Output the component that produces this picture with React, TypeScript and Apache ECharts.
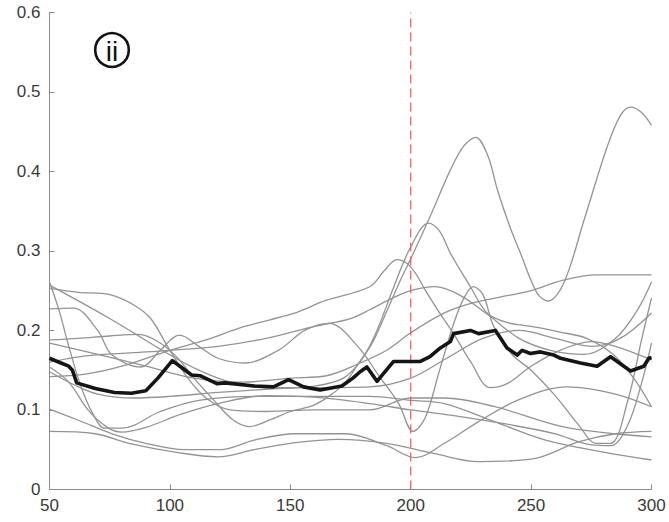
import React, { useEffect, useRef } from "react";
import * as echarts from "echarts";

const xTicks = [50, 100, 150, 200, 250, 300];
const yTicks = [0, 0.1, 0.2, 0.3, 0.4, 0.5, 0.6];
const markerX = 200;
const panelLabel = "ii";

const meanLine: [number, number][] = [
  [50, 0.165], [54, 0.16], [58, 0.155], [59.5, 0.15], [61.3, 0.134], [69, 0.127], [77, 0.122],
  [84, 0.121], [90, 0.124], [95, 0.14], [101, 0.162], [105, 0.153], [109, 0.144], [112.5, 0.143],
  [119.5, 0.133], [123, 0.134], [135, 0.13], [143, 0.129], [149.3, 0.138], [155.5, 0.129],
  [162.4, 0.125], [171.4, 0.13], [176, 0.14], [179, 0.148], [181.8, 0.154], [186, 0.136],
  [192.9, 0.161], [204, 0.161], [208, 0.167], [212.3, 0.178], [216.5, 0.186], [217.8, 0.196],
  [224.8, 0.2], [228.2, 0.196], [235.2, 0.2], [240, 0.178], [244.2, 0.169], [246.3, 0.175],
  [249.7, 0.171], [253.9, 0.173], [259.4, 0.169], [262.2, 0.165], [270.5, 0.159], [277.4, 0.155],
  [283, 0.167], [291.3, 0.149], [296.8, 0.155], [298.9, 0.165], [300, 0.166],
];

const trialA: [number, number][] = [
  [50, 0.188], [62, 0.19], [75, 0.193], [87, 0.195], [95, 0.186], [103, 0.166], [110, 0.14],
  [118, 0.113], [126, 0.088], [133, 0.079], [142, 0.088], [150, 0.098], [159, 0.105], [166, 0.117],
  [173, 0.135], [178, 0.157], [184, 0.184], [189, 0.217], [196, 0.265], [200, 0.29], [208, 0.343],
  [216.5, 0.402], [222, 0.432], [227, 0.443], [232, 0.42], [236, 0.377], [241, 0.332], [245.6, 0.297],
  [252.5, 0.247], [257, 0.237], [263.5, 0.259], [272, 0.339], [281.6, 0.431], [287, 0.47],
  [291.3, 0.481], [296, 0.474], [300, 0.458],
];
const trialB: [number, number][] = [
  [50, 0.148], [60, 0.132], [70, 0.12], [85, 0.115], [100, 0.117], [120, 0.122], [140, 0.126],
  [160, 0.13], [172, 0.14], [180, 0.165], [186, 0.2], [193, 0.255], [200, 0.305], [207.5, 0.335],
  [212, 0.325], [216.5, 0.297], [224.8, 0.255], [231.7, 0.222], [240, 0.21], [250, 0.205],
  [262, 0.198], [273, 0.19], [284, 0.17], [292.6, 0.14], [300, 0.104],
];
const trialC: [number, number][] = [
  [50, 0.142], [65, 0.145], [80, 0.155], [100, 0.175], [115, 0.188], [131, 0.205], [151, 0.221],
  [165, 0.238], [183, 0.255], [189, 0.275], [194.3, 0.289], [200, 0.28], [206.8, 0.247],
  [212, 0.222], [217.8, 0.196], [225, 0.16], [233, 0.128], [240, 0.133], [250, 0.155],
  [262, 0.175], [275, 0.186], [285, 0.18], [300, 0.163],
];
const trialD: [number, number][] = [
  [50, 0.227], [60, 0.228], [70, 0.2], [76, 0.169], [88, 0.154], [96, 0.175], [104, 0.194],
  [112, 0.18], [120, 0.165], [131, 0.159], [145, 0.175], [156, 0.2], [166, 0.209], [178, 0.18],
  [187, 0.142], [195, 0.108], [201, 0.073], [206, 0.09], [212, 0.15], [218, 0.21], [222, 0.24],
  [226, 0.255], [230, 0.245], [234.5, 0.205], [242, 0.17], [250, 0.15], [260, 0.118], [270, 0.08],
  [277, 0.058], [283, 0.058], [290, 0.11], [296, 0.19], [300, 0.241],
];
const trialE: [number, number][] = [
  [50, 0.101], [62, 0.087], [76, 0.07], [90, 0.058], [106, 0.05], [121, 0.05], [135, 0.062],
  [152, 0.07], [173, 0.07], [190, 0.055], [202, 0.04], [214, 0.058], [228, 0.085], [245, 0.113],
  [265, 0.129], [285, 0.12], [300, 0.104],
];
const trialF: [number, number][] = [
  [50, 0.073], [69, 0.07], [83, 0.058], [104, 0.046], [120, 0.041], [135, 0.05], [150, 0.058],
  [170, 0.063], [190, 0.058], [210, 0.045], [228, 0.035], [250, 0.038], [270, 0.06], [285, 0.07],
  [300, 0.073],
];
const trialG: [number, number][] = [
  [50, 0.261], [54, 0.225], [58, 0.18], [63, 0.13], [68, 0.095], [73, 0.077], [80, 0.077],
  [96, 0.098], [112, 0.112], [137, 0.117], [160, 0.117], [183, 0.117], [200, 0.112], [214, 0.108],
  [235, 0.085], [256, 0.062], [280, 0.047], [300, 0.037],
];
const trialH: [number, number][] = [
  [50, 0.154], [58, 0.135], [66, 0.1], [74, 0.078], [80, 0.072], [90, 0.078], [105, 0.095],
  [120, 0.108], [140, 0.118], [160, 0.116], [183, 0.108], [200, 0.1], [220, 0.092], [240, 0.082],
  [260, 0.07], [275, 0.056], [283, 0.055], [290, 0.08], [296, 0.135], [300, 0.184],
];
const trialI: [number, number][] = [
  [50, 0.253], [62, 0.248], [75, 0.245], [85, 0.232], [92, 0.215], [99, 0.18], [107, 0.142],
  [115, 0.115], [125, 0.1], [140, 0.098], [160, 0.1], [183, 0.1], [200, 0.115], [214, 0.115],
  [235, 0.104], [263, 0.079], [285, 0.07], [300, 0.066],
];
const trialJ: [number, number][] = [
  [50, 0.184], [70, 0.17], [90, 0.155], [110, 0.14], [130, 0.135], [150, 0.14], [165, 0.143],
  [179, 0.159], [190, 0.175], [200, 0.197], [214, 0.222], [225, 0.234], [237, 0.242], [250, 0.25],
  [263, 0.263], [277, 0.27], [300, 0.27],
];
const trialK: [number, number][] = [
  [50, 0.257], [75, 0.215], [99, 0.171], [112, 0.15], [125, 0.135], [140, 0.128], [160, 0.128],
  [183, 0.129], [200, 0.14], [215, 0.165], [230, 0.19], [245, 0.2], [260, 0.19], [275, 0.18],
  [287, 0.19], [300, 0.222],
];
const trialL: [number, number][] = [
  [50, 0.16], [65, 0.168], [85, 0.172], [100, 0.175], [120, 0.18], [140, 0.19], [160, 0.205],
  [175, 0.215], [183, 0.226], [192, 0.24], [200, 0.25], [210, 0.255], [220, 0.245], [232, 0.22],
  [245, 0.19], [258, 0.175], [272, 0.17], [285, 0.19], [294, 0.225], [300, 0.261],
];

const trials = [trialA, trialB, trialC, trialD, trialE, trialF, trialG, trialH, trialI, trialJ, trialK, trialL];

export default function App() {
  const ref = useRef<HTMLDivElement>(null);
  useEffect(() => {
    if (!ref.current) return;
    const chart = echarts.init(ref.current, undefined, { renderer: "svg" });
    const axisColor = "#8a8a8a";
    const labelStyle = { color: "#3a3a3a", fontSize: 17, fontFamily: "Arial, 'Liberation Sans', sans-serif" };
    const series: any[] = trials.map((d) => ({
      type: "line",
      data: d,
      smooth: 0.35,
      showSymbol: false,
      silent: true,
      lineStyle: { color: "#939393", width: 1.3 },
      z: 2,
    }));
    series.push({
      type: "line",
      data: [[markerX, yTicks[0]], [markerX, yTicks[yTicks.length - 1]]],
      showSymbol: false,
      silent: true,
      lineStyle: { color: "#ff5252", width: 1.2, type: [9, 5] },
      z: 3,
    });
    series.push({
      type: "line",
      data: meanLine,
      showSymbol: false,
      silent: true,
      lineStyle: { color: "#151515", width: 3.6, join: "round" },
      z: 4,
    });
    chart.setOption({
      animation: false,
      grid: { left: 49.5, right: 17.5, top: 12.5, bottom: 32.6, containLabel: false },
      xAxis: {
        type: "value",
        min: xTicks[0],
        max: xTicks[xTicks.length - 1],
        interval: 50,
        axisLine: { lineStyle: { color: axisColor, width: 1 } },
        axisTick: { inside: true, length: 5, lineStyle: { color: axisColor } },
        axisLabel: { ...labelStyle, margin: 8 },
        splitLine: { show: false },
      },
      yAxis: {
        type: "value",
        min: yTicks[0],
        max: yTicks[yTicks.length - 1],
        interval: 0.1,
        axisLine: { show: true, lineStyle: { color: axisColor, width: 1 } },
        axisTick: { show: true, inside: true, length: 5, lineStyle: { color: axisColor } },
        axisLabel: { ...labelStyle, margin: 9, formatter: (v: number) => String(Math.round(v * 10) / 10) },
        splitLine: { show: false },
      },
      graphic: [
        {
          type: "circle",
          shape: { cx: 112, cy: 50, r: 16.8 },
          style: { fill: "none", stroke: "#111", lineWidth: 2.6 },
          z: 10,
        },
        {
          type: "text",
          x: 112,
          y: 51.5,
          style: {
            text: panelLabel,
            fill: "#111",
            fontSize: 28,
            fontFamily: "Arial, 'Liberation Sans', sans-serif",
            align: "center",
            verticalAlign: "middle",
          },
          z: 10,
        },
      ],
      series,
    });
    return () => chart.dispose();
  }, []);
  return (
    <div
      ref={ref}
      style={{ position: "absolute", left: 0, top: 0, width: 669, height: 522, background: "#fff" }}
    />
  );
}
